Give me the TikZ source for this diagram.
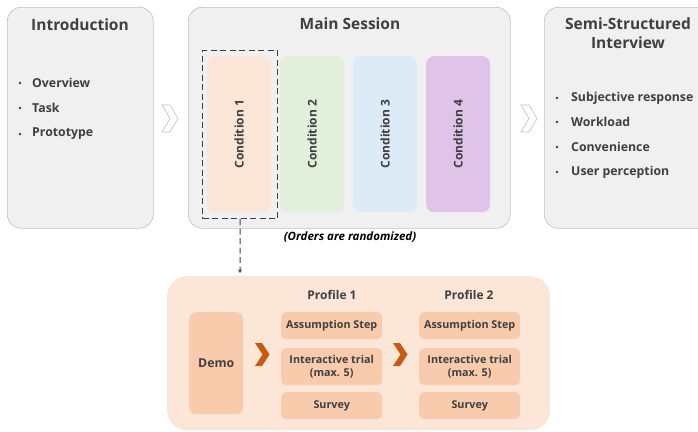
\documentclass[tikz,border=0pt]{standalone}
\usepackage{fontspec}
\setmainfont{Open Sans}
\usetikzlibrary{arrows.meta}
\definecolor{txt}{HTML}{3F3F3F}
\definecolor{panelfill}{HTML}{F0F0F0}
\definecolor{panelline}{HTML}{BFBFBF}
\definecolor{cA}{HTML}{FBE5D6}
\definecolor{cB}{HTML}{E2EFDA}
\definecolor{cC}{HTML}{DDEBF7}
\definecolor{cD}{HTML}{E0C3E8}
\definecolor{lowfill}{HTML}{FCE6D8}
\definecolor{inner}{HTML}{F8CBAD}
\definecolor{chev}{HTML}{C55A11}
\tikzset{
  panel/.style={draw=panelline, line width=0.6pt, fill=panelfill, rounded corners=14pt, anchor=north west, inner sep=0pt},
  condbox/.style={rounded corners=8pt, anchor=north west, minimum width=64pt, minimum height=156pt, inner sep=0pt},
  condtext/.style={rotate=90, font=\fontsize{12}{14}\selectfont\bfseries, text=txt},
  title/.style={font=\fontsize{15.5}{18.5}\selectfont\bfseries, text=txt, align=center},
  item/.style={font=\fontsize{12.3}{15}\selectfont\bfseries, text=txt, anchor=west, inner sep=0pt},
  bul/.style={fill=txt, circle, inner sep=0pt, minimum size=2.6pt},
  stepbox/.style={fill=inner, rounded corners=5pt, anchor=north west, minimum width=101pt, inner sep=0pt, font=\fontsize{10.8}{13.5}\selectfont\bfseries, text=txt, align=center},
  greychev/.style={draw=panelline, fill=white, line width=0.6pt, line join=miter},
  orchev/.style={fill=chev}
}
\begin{document}
\begin{tikzpicture}[x=1pt,y=-1pt]
\useasboundingbox (0,0) rectangle (698,431);
% top panels
\node[panel, minimum width=146pt, minimum height=221pt] (intro) at (7,7) {};
\node[panel, minimum width=322pt, minimum height=221pt] (main) at (188,7) {};
\node[panel, minimum width=170pt, minimum height=221pt] (semi) at (544,7) {};
% titles
\node[title] (tintro) at (80,25) {Introduction};
\node[title] (tmain) at (350,24) {Main Session};
\node[title] (tsemi) at (628,33) {Semi-Structured\\Interview};
% intro items
\foreach \t/\yy/\n in {Overview/83/a, Task/108/b, Prototype/134/c}{
  \node[bul] (ib\n) at (20,\yy) {};
  \node[item] (it\n) at (32,\yy) {\t};
}
% semi items
\foreach \t/\yy/\n in {Subjective response/98/a, Workload/122/b, Convenience/147/c, User perception/172/d}{
  \node[bul] (sb\n) at (557,\yy) {};
  \node[item] (st\n) at (571,\yy) {\t};
}
% conditions
\node[condbox, fill=cA] (c1) at (207,56) {};
\node[condbox, fill=cB] (c2) at (280,56) {};
\node[condbox, fill=cC] (c3) at (353,56) {};
\node[condbox, fill=cD] (c4) at (426,56) {};
\foreach \i in {1,2,3,4}{ \node[condtext] (ct\i) at (c\i.center) {Condition \i}; }
\node[draw=txt, dash pattern=on 6pt off 3.5pt, line width=1.1pt, anchor=north west, minimum width=75pt, minimum height=168pt, inner sep=0pt] (sel) at (202,50) {};
\node[font=\fontsize{11.5}{14}\selectfont\bfseries\itshape, text=black] (rand) at (350,237) {(Orders are randomized)};
% grey chevrons
\draw[greychev] (162,105) -- (170,105) -- (178,118.5) -- (170,132) -- (162,132) -- (170,118.5) -- cycle;
\draw[greychev] (521,105) -- (529,105) -- (537,118.5) -- (529,132) -- (521,132) -- (529,118.5) -- cycle;
% lower panel
\node[fill=lowfill, rounded corners=20pt, anchor=north west, minimum width=383pt, minimum height=154pt, inner sep=0pt] (low) at (167,276) {};
\coordinate (selend) at (240,273);
\draw[txt, dash pattern=on 6pt off 3.5pt, line width=1pt, -{Stealth[length=3.5pt,width=4pt]}] (sel.south) -- (selend);
% demo
\node[fill=inner, rounded corners=7pt, anchor=north west, minimum width=54pt, minimum height=102pt, inner sep=0pt, font=\fontsize{12.3}{15}\selectfont\bfseries, text=txt] (demo) at (189,312) {Demo};
% profile titles
\node[font=\fontsize{12}{16}\selectfont\bfseries, text=txt] (p1) at (332,295) {Profile 1};
\node[font=\fontsize{12}{16}\selectfont\bfseries, text=txt] (p2) at (469,295) {Profile 2};
% profile boxes
\node[stepbox, minimum height=27pt] (a1) at (281,312) {Assumption Step};
\node[stepbox, minimum height=37pt] (i1) at (281,348) {Interactive trial\\(max. 5)};
\node[stepbox, minimum height=27pt] (s1) at (281,392) {Survey};
\node[stepbox, minimum height=27pt] (a2) at (419,312) {Assumption Step};
\node[stepbox, minimum height=37pt] (i2) at (419,348) {Interactive trial\\(max. 5)};
\node[stepbox, minimum height=27pt] (s2) at (419,392) {Survey};
% orange chevrons
\fill[orchev] (255,343) -- (262,343) -- (269.5,354.5) -- (262,366) -- (255,366) -- (262.5,354.5) -- cycle;
\fill[orchev] (393,343) -- (400,343) -- (407.5,354.5) -- (400,366) -- (393,366) -- (400.5,354.5) -- cycle;
\end{tikzpicture}
\end{document}
